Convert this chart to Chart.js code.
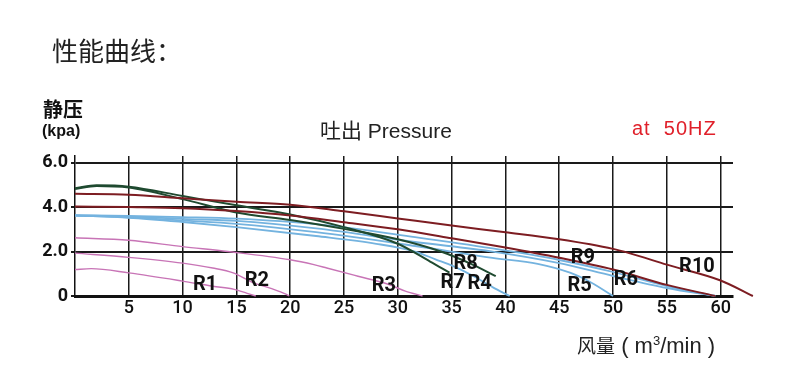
<!DOCTYPE html>
<html>
<head>
<meta charset="utf-8">
<script src="https://cdn.jsdelivr.net/npm/chart.js@4"></script>
<style>
  html, body { margin:0; padding:0; background:#fff; }
  #wrap { position:relative; width:790px; height:382px; overflow:hidden; }
  canvas { position:absolute; left:0; top:0; }
  .t { position:absolute; white-space:pre; line-height:1; }
</style>
</head>
<body>
<div id="wrap">
  <canvas id="c" width="790" height="382"></canvas>
  <div class="t" style="left:52px;top:31px;font:26px 'Noto Sans CJK SC';color:#222;">性能曲线：</div>
  <div class="t" style="left:43px;top:94px;font:bold 20px 'Noto Sans CJK SC';color:#111;">静压</div>
  <div class="t" style="left:42px;top:122px;font:bold 16px 'Liberation Sans';color:#111;">(kpa)</div>
  <div class="t" style="left:320px;top:114px;font:21px 'Liberation Sans','Noto Sans CJK SC';color:#222;">吐出 Pressure</div>
  <div class="t" style="left:632px;top:117px;font:20px 'Liberation Sans';color:#e0202a;letter-spacing:1px;">at  50HZ</div>
  <div class="t" style="left:577px;top:331px;font:22px 'Liberation Sans';color:#222;"><span style="font:19px 'Noto Sans CJK SC';">风量</span> ( m<sup style="font-size:13px;vertical-align:8px;line-height:0;">3</sup>/min )</div>
</div>
<script>
// ---- data (flow m3/min, static pressure kPa) ----
const xTicks = [5,10,15,20,25,30,35,40,45,50,55,60];
const yTicks = [0,2,4,6];
const yTickLabels = ['0','2.0','4.0','6.0'];

const curveR1 = [[0,1.19],[1.5,1.23],[5,1.04],[10,0.67],[12.8,0.44],[14.8,0.30],[16.0,0.12],[16.8,0]];
const curveR2 = [[0,1.93],[5,1.74],[10,1.48],[12.8,1.26],[14.7,1.04],[16.6,0.59],[18.2,0.34],[19.6,0.08],[19.9,0]];
const curveR3 = [[0,2.62],[5,2.51],[10,2.22],[14.2,2.0],[20,1.63],[22.2,1.41],[23.4,1.26],[26.3,0.89],[29.1,0.53],[30.7,0.22],[32.3,0]];
const curveR4 = [[0,3.62],[5,3.52],[10,3.33],[15,3.10],[22.4,2.70],[28,2.35],[31.6,2.0],[33.5,1.65],[35.2,1.33],[37,0.9],[38.8,0.40],[40.4,0]];
const curveR5 = [[0,3.62],[5,3.54],[10,3.40],[15,3.25],[22.4,2.87],[31.6,2.25],[38.8,1.72],[43,1.45],[46,1.05],[48,0.6],[50,0]];
const curveR6a = [[0,3.64],[5,3.60],[10,3.55],[15,3.48],[22.4,3.23],[31.6,2.65],[38.8,2.14],[45,1.62],[50,1.08],[55,0.45],[59.5,0]];
const curveR6b = [[0,3.63],[5,3.57],[10,3.47],[15,3.38],[22.4,3.04],[31.6,2.43],[38.8,2.0],[45,1.48],[50,0.90],[55,0.36],[59.5,0]];
const curveR7 = [[0,4.85],[2,4.98],[5,4.92],[10,4.50],[15,4.08],[20,3.67],[25,3.10],[30,2.35],[33,1.55],[34.8,1.05]];
const curveR8 = [[0,4.82],[2,4.95],[5,4.88],[10,4.36],[15,3.76],[20,3.42],[25,3.02],[30,2.55],[34,2.0],[37,1.40],[39.1,0.89]];
const curveR9 = [[0,4.03],[5,4.0],[10,3.95],[15,3.82],[20,3.62],[25,3.32],[30,3.0],[35,2.60],[40,2.18],[45,1.72],[50,1.19],[55,0.50],[59.5,0]];
const curveR10 = [[0,4.60],[5,4.56],[10,4.40],[15,4.24],[20,4.11],[25,3.81],[30,3.49],[35,3.17],[40,2.87],[45,2.55],[50,2.12],[51.5,1.93],[55,1.41],[60,0.70],[63,0]];

const labelNames = ['R1','R2','R3','R4','R5','R6','R7','R8','R9','R10'];
const labelX = [12.1,16.9,28.7,37.6,46.9,51.2,35.1,36.3,47.2,57.8];
const labelY = [0.49,0.67,0.44,0.53,0.44,0.71,0.58,1.42,1.73,1.29];

// ---- styles ----
const RED = '#7d1d22', GREEN = '#1f4a30', BLUE = '#74b3df', PINK = '#c874b6';

function ds(name, pts, color, w) {
  return {
    label: name,
    data: pts.map(p => ({x: p[0], y: p[1]})),
    borderColor: color,
    borderWidth: w,
    pointRadius: 0,
    fill: false,
    cubicInterpolationMode: 'monotone',
    clip: false
  };
}

const datasets = [
  ds('R10', curveR10, RED, 2),
  ds('R9', curveR9, RED, 2),
  ds('R8', curveR8, GREEN, 2),
  ds('R7', curveR7, GREEN, 2),
  ds('R6', curveR6a, BLUE, 1.8),
  ds('R6b', curveR6b, BLUE, 1.8),
  ds('R5', curveR5, BLUE, 1.8),
  ds('R4', curveR4, BLUE, 1.8),
  ds('R3', curveR3, PINK, 1.4),
  ds('R2', curveR2, PINK, 1.4),
  ds('R1', curveR1, PINK, 1.4)
];

const curveLabels = {
  id: 'curveLabels',
  afterDatasetsDraw(chart) {
    const {ctx, scales: {x, y}} = chart;
    ctx.save();
    ctx.font = 'bold 20px Roboto';
    ctx.fillStyle = '#111';
    ctx.textAlign = 'center';
    ctx.textBaseline = 'middle';
    labelNames.forEach((n, i) => {
      ctx.fillText(n, x.getPixelForValue(labelX[i]), y.getPixelForValue(labelY[i]));
    });
    ctx.restore();
  }
};

new Chart(document.getElementById('c'), {
  type: 'line',
  data: { datasets },
  plugins: [curveLabels],
  options: {
    responsive: false,
    animation: false,
    devicePixelRatio: 1,
    layout: { padding: { top: 156, right: 57, bottom: 0, left: 0 } },
    plugins: { legend: { display: false }, tooltip: { enabled: false } },
    scales: {
      x: {
        type: 'linear',
        min: 0, max: 61.15,
        afterBuildTicks: s => { s.ticks = xTicks.map(v => ({value: v})); },
        afterFit: s => { s.height = 86; },
        grid: { color: '#1a1a1a', lineWidth: 1.5, drawTicks: false },
        border: { color: '#111', width: 3 },
        ticks: { autoSkip: false, maxRotation: 0, padding: 2, color: '#111',
                 font: { family: 'Roboto', size: 18, weight: '500' },
                 callback: v => String(v) }
      },
      y: {
        type: 'linear',
        min: 0, max: 6.3,
        afterBuildTicks: s => { s.ticks = yTicks.map(v => ({value: v})); },
        afterFit: s => { s.width = 75; },
        grid: { color: '#1a1a1a', lineWidth: 2, drawTicks: true, tickLength: 4 },
        border: { color: '#111', width: 1.5 },
        ticks: { padding: 3, color: '#111',
                 font: { family: 'Roboto', size: 18, weight: 'bold' },
                 callback: v => yTickLabels[yTicks.indexOf(v)] }
      }
    }
  }
});
</script>
</body>
</html>
